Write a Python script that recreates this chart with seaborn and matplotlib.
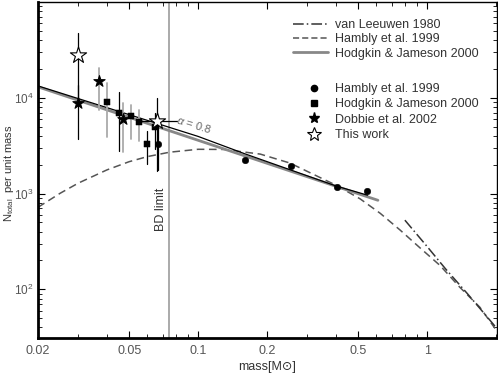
import matplotlib
matplotlib.use("Agg")
import matplotlib.pyplot as plt
import seaborn as sns
from matplotlib.lines import Line2D
from matplotlib.ticker import FixedLocator, NullFormatter

# --- model curves ---
hambly_curve_m = [0.02, 0.025, 0.03, 0.04, 0.05, 0.06, 0.075, 0.10, 0.13, 0.187,
                  0.252, 0.404, 0.51, 0.624, 0.762, 0.931, 1.14, 1.39, 1.70, 1.98]
hambly_curve_n = [718, 1007, 1285, 1765, 2150, 2428, 2700, 2897, 2885, 2580,
                  2080, 1208, 880, 622, 416, 271, 177, 105, 65, 39]

leeuwen_m = [0.80, 1.0, 1.2, 1.5, 2.0]
leeuwen_n = [527, 280, 165, 90, 40]

hj_line_m = [0.02, 0.61]
hj_line_n = [13000, 850]

fit_line_m = [0.02, 0.10, 0.16, 0.40, 0.55]
fit_line_n = [13300, 3950, 2600, 1200, 960]

# --- data points ---
hambly_m = [0.067, 0.160, 0.255, 0.404, 0.547]
hambly_n = [3280, 2240, 1945, 1180, 1050]

hj_m = [0.0401, 0.0452, 0.0509, 0.0552, 0.0599, 0.0649]
hj_n = [9100, 7000, 6520, 5520, 3280, 4910]
hj_lo = [3870, 2780, 3690, 3500, 2040, 2900]
hj_hi = [14300, 11500, 8470, 7500, 4460, 7000]
hj_bar = ["#aaaaaa", "black", "#aaaaaa", "#aaaaaa", "black", "black"]

dobbie_m = [0.030, 0.037, 0.047]
dobbie_n = [8900, 15000, 5930]
dobbie_lo = [3690, 7500, 2710]
dobbie_hi = [13600, 20400, 8880]
dobbie_bar = ["black", "#aaaaaa", "#aaaaaa"]

this_m = [0.030, 0.066]
this_n = [27700, 5660]
this_lo = [8900, 1730]
this_hi = [48000, 10000]
this_mlo = [0.030, 0.0558]
this_mhi = [0.030, 0.081]

bd_limit = 0.075

sns.set_theme(style="ticks")
plt.rcParams['font.family'] = ['Liberation Sans', 'DejaVu Sans']
plt.rcParams['mathtext.fontset'] = 'custom'
plt.rcParams['mathtext.rm'] = 'Liberation Sans'
plt.rcParams['mathtext.it'] = 'Liberation Sans:italic'

fig = plt.figure(figsize=(4.98, 3.76), dpi=100)
ax = fig.add_axes([38 / 498, 1 - 338 / 376, 459 / 498, 336 / 376])
ax.set_xscale("log")
ax.set_yscale("log")

# curves
sns.lineplot(x=hambly_curve_m, y=hambly_curve_n, ax=ax, color="#555555", lw=1.1,
             linestyle=(0, (5, 3)), sort=False)
sns.lineplot(x=leeuwen_m, y=leeuwen_n, ax=ax, color="#333333", lw=1.1,
             linestyle=(0, (7, 2, 1, 2)), sort=False)
sns.lineplot(x=hj_line_m, y=hj_line_n, ax=ax, color="#888888", lw=2.0, sort=False)
sns.lineplot(x=fit_line_m, y=fit_line_n, ax=ax, color="black", lw=0.9, sort=False)

ax.axvline(bd_limit, color="#aaaaaa", lw=1.4, zorder=1)
ax.text(0.0735, 690, "BD limit", rotation=90, ha="right", va="center",
        fontsize=9, color="#333333")
ax.text(0.096, 5300, r"$\alpha$ = 0.8", rotation=-17, ha="center", va="center",
        fontsize=8, color="#666666")

# error bars
for m, n, lo, hi, c in zip(hj_m, hj_n, hj_lo, hj_hi, hj_bar):
    ax.plot([m, m], [lo, hi], color=c, lw=1.3 if c != "black" else 0.9, zorder=2)
for m, n, lo, hi, c in zip(dobbie_m, dobbie_n, dobbie_lo, dobbie_hi, dobbie_bar):
    ax.plot([m, m], [lo, hi], color=c, lw=1.3 if c != "black" else 0.9, zorder=2)
for m, n, lo, hi, mlo, mhi in zip(this_m, this_n, this_lo, this_hi, this_mlo, this_mhi):
    ax.plot([m, m], [lo, hi], color="black", lw=0.9, zorder=2)
    if mhi > mlo:
        ax.plot([mlo, mhi], [n, n], color="black", lw=0.9, zorder=2)
ax.plot([hambly_m[0], hambly_m[0]], [1750, 5200], color="black", lw=0.9, zorder=2)

# points
sns.scatterplot(x=hambly_m, y=hambly_n, ax=ax, marker="o", s=22, color="black",
                edgecolor="black", zorder=4)
sns.scatterplot(x=hj_m, y=hj_n, ax=ax, marker="s", s=20, color="black",
                edgecolor="black", zorder=4)
sns.scatterplot(x=dobbie_m, y=dobbie_n, ax=ax, marker="*", s=75, color="black",
                edgecolor="black", zorder=4)
sns.scatterplot(x=this_m, y=this_n, ax=ax, marker="*", s=150, facecolor="white",
                edgecolor="black", linewidth=0.8, zorder=5)

ax.set_xlim(0.02, 2.02)
ax.set_ylim(31, 1.0e5)

# ticks
xt = [0.02, 0.05, 0.1, 0.2, 0.5, 1]
ax.xaxis.set_major_locator(FixedLocator(xt))
ax.set_xticklabels(["0.02", "0.05", "0.1", "0.2", "0.5", "1"])
ax.xaxis.set_minor_locator(FixedLocator([0.03, 0.04, 0.06, 0.07, 0.08, 0.09,
                                         0.3, 0.4, 0.6, 0.7, 0.8, 0.9, 2.0]))
ax.xaxis.set_minor_formatter(NullFormatter())
ax.yaxis.set_major_locator(FixedLocator([1e2, 1e3, 1e4]))
ax.set_yticklabels([r"10$^{2}$", r"10$^{3}$", r"10$^{4}$"])
ax.yaxis.set_minor_locator(FixedLocator([k * 10 ** e for e in (1, 2, 3, 4) for k in range(2, 10)]))
ax.yaxis.set_minor_formatter(NullFormatter())
ax.tick_params(which="both", direction="in", top=True, right=True,
               labelsize=9, labelcolor="#555555", color="black")
ax.tick_params(which="major", length=5, width=0.8, pad=5)
ax.tick_params(which="minor", length=3, width=0.6)
ax.tick_params(axis="y", which="major", labelsize=8.5, pad=3)

for s in ["left", "bottom"]:
    ax.spines[s].set_linewidth(2.0)
for s in ["top", "right"]:
    ax.spines[s].set_linewidth(1.0)
for s in ax.spines.values():
    s.set_color("black")

ax.set_xlabel("mass[M⊙]", fontsize=9, color="#333333", labelpad=3)
ax.set_ylabel(r"N$_{\mathrm{total}}$  per unit mass", fontsize=8, color="#333333")
ax.yaxis.set_label_coords(-0.049, 0.49)

# legends
line_handles = [
    Line2D([], [], color="#333333", lw=1.1, linestyle=(0, (7, 2, 1, 2))),
    Line2D([], [], color="#555555", lw=1.1, linestyle=(0, (4, 2))),
    Line2D([], [], color="#888888", lw=2.0),
]
line_labels = ["van Leeuwen 1980", "Hambly et al. 1999", "Hodgkin & Jameson 2000"]
leg1 = ax.legend(line_handles, line_labels, loc="upper left", bbox_to_anchor=(0.556, 0.949),
                 frameon=False, fontsize=9, handlelength=2.8, handletextpad=0.56,
                 labelspacing=0.18, borderpad=0, borderaxespad=0, labelcolor="#333333")
ax.add_artist(leg1)

mark_handles = [
    Line2D([], [], color="black", marker="o", ls="", markersize=4.5),
    Line2D([], [], color="black", marker="s", ls="", markersize=4),
    Line2D([], [], color="black", marker="*", ls="", markersize=8),
    Line2D([], [], color="black", markerfacecolor="white", marker="*", ls="",
           markersize=10, markeredgewidth=0.8),
]
mark_labels = ["Hambly et al. 1999", "Hodgkin & Jameson 2000", "Dobbie et al. 2002", "This work"]
ax.legend(mark_handles, mark_labels, loc="upper left", bbox_to_anchor=(0.571, 0.759),
          frameon=False, fontsize=9, handlelength=2.24, handletextpad=0.56,
          labelspacing=0.27, borderpad=0, borderaxespad=0, labelcolor="#333333")

fig.savefig("out.png", dpi=100)
